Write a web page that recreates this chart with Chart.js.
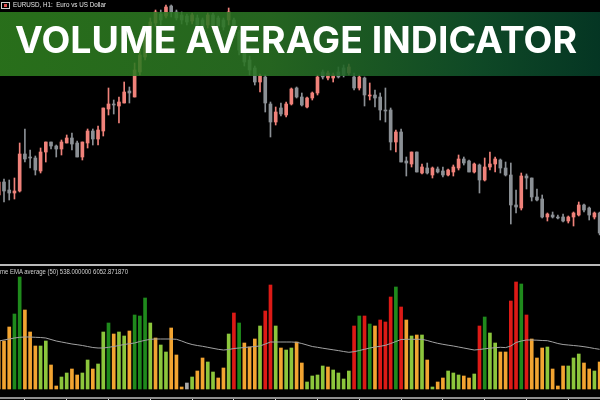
<!DOCTYPE html>
<html><head><meta charset="utf-8">
<script src="https://cdn.jsdelivr.net/npm/chart.js@4"></script>
<style>
html,body{margin:0;padding:0;background:#000;}
#wrap{position:relative;width:600px;height:400px;overflow:hidden;background:#000;font-family:"Liberation Sans",Arial,sans-serif;}
#priceBox{position:absolute;left:0;top:0;width:600px;height:263px;}
#volBox{position:absolute;left:0;top:266px;width:600px;height:134px;}
#sep{position:absolute;left:0;top:264px;width:600px;height:2px;background:#b9b9b9;}
#banner{position:absolute;left:0;top:12px;width:600px;height:64px;background:linear-gradient(90deg, rgba(46,126,30,0.88) 0%, rgba(42,114,36,0.88) 45%, rgba(16,80,42,0.9) 80%, rgba(5,58,38,0.92) 100%);}
#bannerText{position:absolute;left:15px;top:21px;white-space:nowrap;color:#fff;font-family:Inter,"Open Sans",sans-serif;font-weight:700;font-size:37px;line-height:37px;transform-origin:0 0;}
#sym{position:absolute;left:13px;top:0px;font-size:7.5px;line-height:10px;color:#e6e6e6;white-space:nowrap;transform-origin:0 0;}
#ind{position:absolute;left:0;top:267px;font-size:7px;line-height:9px;color:#d0d0d0;white-space:nowrap;transform-origin:0 0;}
#icon{position:absolute;left:1px;top:2px;width:7px;height:5px;border:1px solid #cfcfcf;}
#icon i{position:absolute;left:2px;top:1px;width:3px;height:3px;background:#e05050;}
</style></head>
<body>
<div id="wrap">
  <div id="priceBox"><canvas id="priceChart"></canvas></div>
  <div id="banner"></div>
  <div id="bannerText">VOLUME AVERAGE INDICATOR</div>
  <div id="icon"><i></i></div>
  <div id="sym">EURUSD, H1:&nbsp; Euro vs US Dollar</div>
  <div id="sep"></div>
  <div id="volBox"><canvas id="volChart"></canvas></div>
  <div id="ind">me EMA average (50) 538.000000 6052.871870</div>
</div>
<script>
// ---- candles (bars from index -1 to 114) ----
const opens = [1.0805,1.0818,1.0810,1.0807,1.0809,1.0846,1.0843,1.0842,1.0829,1.0848,
1.0858,1.0854,1.0851,1.0857,1.0862,1.0857,1.0843,1.0857,1.0869,1.0861,
1.0869,1.0891,1.0896,1.0894,1.0897,1.0909,1.0903,1.0928,1.0943,1.0962,
1.0977,1.0986,1.0984,1.0994,1.0988,1.0985,1.0984,1.0979,1.0982,1.0980,
1.0975,1.0985,1.0982,1.0980,1.0980,1.0980,1.0968,1.0950,1.0940,1.0932,
1.0918,1.0923,1.0896,1.0878,1.0892,1.0885,1.0896,1.0912,1.0903,1.0893,
1.0902,1.0907,1.0928,1.0922,1.0922,1.0928,1.0932,1.0927,1.0923,1.0912,
1.0922,1.0904,1.0905,1.0903,1.0890,1.0890,1.0858,1.0868,1.0839,1.0836,
1.0848,1.0827,1.0832,1.0825,1.0831,1.0829,1.0825,1.0828,1.0832,1.0841,
1.0839,1.0828,1.0835,1.0820,1.0833,1.0836,1.0840,1.0832,1.0825,1.0795,
1.0792,1.0824,1.0822,1.0803,1.0801,1.0783,1.0785,1.0783,1.0783,1.0779,
1.0783,1.0785,1.0795,1.0792,1.0783,1.0787];
const highs = [1.0820,1.0821,1.0820,1.0822,1.0857,1.0871,1.0850,1.0844,1.0852,1.0858,
1.0858,1.0855,1.0860,1.0865,1.0867,1.0859,1.0858,1.0871,1.0871,1.0874,
1.0892,1.0912,1.0900,1.0903,1.0918,1.0913,1.0937,1.0950,1.0965,1.0982,
1.0990,1.0990,1.0995,1.0995,1.0990,1.0988,1.0986,1.0987,1.0985,1.0982,
1.0987,1.0987,1.0984,1.0982,1.0992,1.0982,1.0970,1.0955,1.0944,1.0934,
1.0926,1.0925,1.0898,1.0893,1.0897,1.0898,1.0912,1.0913,1.0907,1.0903,
1.0908,1.0925,1.0930,1.0929,1.0927,1.0933,1.0935,1.0936,1.0927,1.0925,
1.0923,1.0917,1.0910,1.0907,1.0912,1.0892,1.0870,1.0871,1.0843,1.0848,
1.0848,1.0836,1.0837,1.0833,1.0833,1.0833,1.0831,1.0835,1.0845,1.0843,
1.0840,1.0837,1.0836,1.0842,1.0848,1.0843,1.0841,1.0838,1.0837,1.0810,
1.0827,1.0826,1.0822,1.0811,1.0805,1.0787,1.0788,1.0785,1.0786,1.0784,
1.0788,1.0798,1.0796,1.0793,1.0788,1.0788];
const lows = [1.0803,1.0798,1.0800,1.0801,1.0808,1.0838,1.0832,1.0825,1.0827,1.0838,
1.0851,1.0843,1.0845,1.0857,1.0850,1.0843,1.0840,1.0852,1.0855,1.0855,
1.0864,1.0885,1.0886,1.0877,1.0897,1.0897,1.0903,1.0925,1.0940,1.0958,
1.0973,1.0975,1.0982,1.0983,1.0980,1.0976,1.0975,1.0976,1.0972,1.0970,
1.0972,1.0972,1.0970,1.0970,1.0975,1.0962,1.0945,1.0934,1.0925,1.0915,
1.0908,1.0888,1.0863,1.0875,1.0884,1.0883,1.0895,1.0902,1.0894,1.0892,
1.0900,1.0905,1.0921,1.0920,1.0918,1.0922,1.0923,1.0925,1.0910,1.0910,
1.0894,1.0900,1.0893,1.0880,1.0878,1.0850,1.0848,1.0838,1.0824,1.0833,
1.0828,1.0826,1.0826,1.0822,1.0827,1.0823,1.0824,1.0824,1.0830,1.0835,
1.0828,1.0827,1.0807,1.0819,1.0830,1.0828,1.0827,1.0824,1.0776,1.0787,
1.0790,1.0811,1.0799,1.0799,1.0782,1.0779,1.0782,1.0781,1.0778,1.0777,
1.0774,1.0784,1.0788,1.0780,1.0781,1.0765];
const closes = [1.0818,1.0809,1.0807,1.0809,1.0846,1.0841,1.0842,1.0830,1.0848,1.0858,
1.0854,1.0851,1.0858,1.0862,1.0856,1.0843,1.0858,1.0869,1.0861,1.0870,
1.0892,1.0896,1.0895,1.0898,1.0908,1.0907,1.0930,1.0945,1.0962,1.0978,
1.0988,1.0980,1.0993,1.0988,1.0982,1.0980,1.0978,1.0985,1.0975,1.0973,
1.0985,1.0974,1.0974,1.0973,1.0988,1.0964,1.0950,1.0938,1.0930,1.0918,
1.0924,1.0897,1.0878,1.0888,1.0886,1.0896,1.0911,1.0903,1.0895,1.0902,
1.0907,1.0923,1.0923,1.0927,1.0925,1.0923,1.0925,1.0933,1.0912,1.0923,
1.0905,1.0905,1.0902,1.0890,1.0889,1.0858,1.0868,1.0838,1.0837,1.0848,
1.0828,1.0833,1.0827,1.0832,1.0828,1.0825,1.0830,1.0833,1.0841,1.0837,
1.0828,1.0836,1.0820,1.0833,1.0836,1.0841,1.0832,1.0825,1.0795,1.0793,
1.0824,1.0822,1.0803,1.0800,1.0783,1.0786,1.0783,1.0782,1.0779,1.0783,
1.0787,1.0795,1.0790,1.0785,1.0787,1.0767];

// ---- volumes ----
const volumes = [4800,4800,6200,7500,11200,7900,5700,4300,4300,4800,
2400,300,1200,1600,2000,1400,1600,2900,2000,2500,
5700,6600,5500,5700,5300,5800,7400,7300,9100,6600,
5100,4400,3700,6100,3400,200,600,1200,1800,3100,
2700,1700,1100,2100,5500,7600,6600,4600,4200,5000,
6300,7800,10400,6300,4100,3900,4100,4700,2600,700,
1300,1400,2300,2200,1900,1600,1000,1800,6300,7300,
7300,6500,6300,6900,6700,9200,10200,8200,6900,5300,
5400,5400,2900,200,700,1100,1800,1600,1400,1300,
1100,1500,6300,7200,5600,4600,3700,3700,8800,10700,
10500,7400,5000,3100,4100,4200,2000,300,2300,2300,
3100,3500,2600,2000,1800,2700];
const volClass = ['O','O','O','D','D','O','O','O','L','L',
'O','O','L','L','O','O','L','L','O','L',
'L','D','O','L','L','O','D','D','D','L',
'O','L','L','O','O','O','G','L','O','O',
'L','L','O','O','L','R','D','O','O','O',
'L','R','R','L','O','L','L','O','O','L',
'L','L','L','O','L','L','L','L','R','D',
'R','D','O','R','R','R','D','R','O','L',
'O','L','O','L','O','O','L','L','L','O',
'O','L','R','D','L','L','O','O','R','R',
'D','R','O','O','O','L','O','O','O','L',
'L','L','O','O','L','O'];
const emaAverage = [4800,4900,5000,5100,5170,5200,5200,5170,5150,5100,
4950,4800,4700,4600,4500,4430,4350,4250,4150,4100,
4100,4170,4250,4350,4450,4530,4600,4750,4870,4970,
5000,5000,5000,5000,4970,4800,4600,4450,4350,4270,
4170,4070,3970,3900,3950,4050,4100,4150,4200,4250,
4300,4500,4700,4700,4700,4700,4700,4670,4550,4400,
4250,4170,4080,4000,3920,3840,3750,3670,3730,3850,
3970,4100,4200,4270,4370,4550,4750,4950,4970,4970,
4970,4970,4850,4700,4570,4470,4380,4300,4200,4100,
4000,3900,3950,4020,4080,4130,4170,4140,4300,4650,
4800,4900,4900,4880,4850,4830,4700,4550,4450,4400,
4350,4300,4230,4150,4050,3970];
const timeTicks = [4,12,20,28,36,44,52,60,68,76,84,92,100,108];

const UP = '#f0827a', DOWN = '#8b9095';
const PALETTE = {O:'#f2a431', L:'#8cc63c', D:'#1f8a1c', R:'#dc1a16', G:'#a9a9a9'};
const X_MIN = -4/5.225, X_MAX = X_MIN + 600/5.225;

const idx = opens.map((_, k) => k - 1);
const bull = opens.map((o, k) => closes[k] > o);

Chart.defaults.font.family = '"Liberation Sans", Arial, sans-serif';

new Chart(document.getElementById('priceChart'), {
  type: 'bar',
  data: { datasets: [
    { label:'body', order:0, grouped:false, barThickness:3, minBarLength:1, borderWidth:0,
      data: idx.map((x, k) => ({x, y:[opens[k], closes[k]]})),
      backgroundColor: bull.map(b => b ? UP : DOWN) },
    { label:'wick', order:1, grouped:false, barThickness:1, borderWidth:0,
      data: idx.map((x, k) => ({x, y:[lows[k], highs[k]]})),
      backgroundColor: bull.map(b => b ? UP : DOWN) }
  ]},
  options: {
    responsive:true, maintainAspectRatio:false, animation:false, devicePixelRatio:1,
    layout:{padding:0},
    plugins:{legend:{display:false}, tooltip:{enabled:false}},
    scales:{
      x:{type:'linear', min:X_MIN, max:X_MAX, display:false, offset:false, grid:{offset:false}},
      y:{min:1.0737, max:1.1000, display:false}
    }
  }
});

new Chart(document.getElementById('volChart'), {
  type: 'bar',
  data: { datasets: [
    { type:'line', order:0, data: idx.map((x, k) => ({x, y: emaAverage[k]})),
      borderColor:'#a2a2a2', borderWidth:1, pointRadius:0, tension:0 },
    { type:'bar', order:1, barThickness:3, borderWidth:0,
      data: idx.map((x, k) => ({x, y: volumes[k]})),
      backgroundColor: volClass.map(c => PALETTE[c]) }
  ]},
  options: {
    responsive:true, maintainAspectRatio:false, animation:false, devicePixelRatio:1,
    layout:{padding:0},
    plugins:{legend:{display:false}, tooltip:{enabled:false}},
    scales:{
      x:{type:'linear', min:X_MIN, max:X_MAX, offset:false,
         ticks:{display:false},
         grid:{display:true, drawOnChartArea:false, drawTicks:true, tickLength:2, color:'#dcdcdc', offset:false},
         border:{display:true, color:'#8e8e8e', width:2},
         afterBuildTicks: s => { s.ticks = timeTicks.map(v => ({value:v})); }},
      y:{display:false, min:-900, max:12300}
    }
  }
});

function fit(id, target){
  const el = document.getElementById(id);
  const w = el.getBoundingClientRect().width;
  if (w > 0) el.style.transform = 'scaleX(' + (target / w) + ')';
}
fit('bannerText', 562);
fit('sym', 93);
fit('ind', 128);
</script>
</body></html>
